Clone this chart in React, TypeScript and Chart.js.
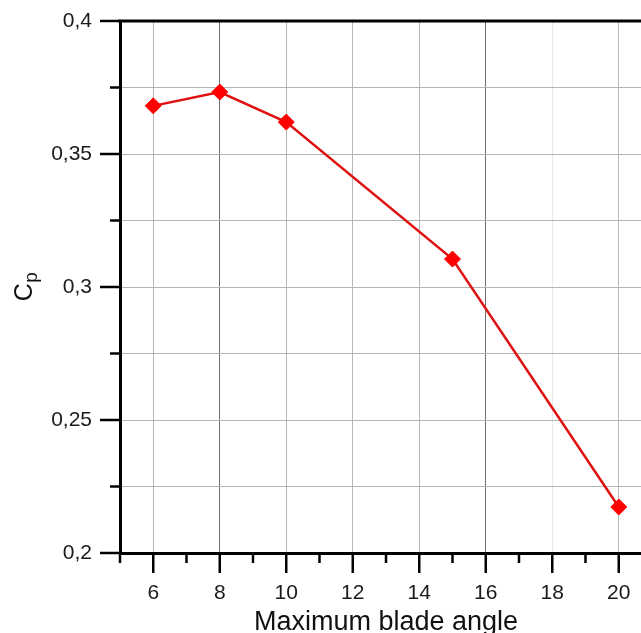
import React, { useEffect, useRef } from 'react';
import { Chart, registerables } from 'chart.js';

Chart.register(...registerables);

// ---- data ----
const bladeAngles = [6, 8, 10, 15, 20];
const cpValues = [0.3681, 0.3733, 0.362, 0.3105, 0.2173];
const xAxisTitle = 'Maximum blade angle';
const yTitleMain = 'C';
const yTitleSub = 'p';

const X_MIN = 5;
const X_MAX = 21;
const Y_MIN = 0.2;
const Y_MAX = 0.4;

const FONT = '"Liberation Sans", Arial, sans-serif';

function isMajorY(v: number) {
  return Math.abs(v * 20 - Math.round(v * 20)) < 1e-6;
}
function isEven(v: number) {
  return Math.abs(v / 2 - Math.round(v / 2)) < 1e-6;
}
function fmtComma(v: number) {
  return String(parseFloat(v.toFixed(3))).replace('.', ',');
}

const decorPlugin = {
  id: 'decor',
  beforeDraw(chart: any) {
    const { ctx, width, height } = chart;
    ctx.save();
    ctx.fillStyle = '#ffffff';
    ctx.fillRect(0, 0, width, height);
    ctx.restore();
  },
  afterDraw(chart: any) {
    const { ctx, chartArea } = chart;
    const xs = chart.scales.x;
    const ys = chart.scales.y;
    ctx.save();
    ctx.strokeStyle = '#000';
    ctx.lineWidth = 2.5;
    ctx.lineCap = 'butt';
    xs.ticks.forEach((t: any) => {
      const px = xs.getPixelForValue(t.value);
      const len = isEven(t.value) ? 20 : 10;
      ctx.beginPath();
      ctx.moveTo(px, chartArea.bottom);
      ctx.lineTo(px, chartArea.bottom + len);
      ctx.stroke();
    });
    ys.ticks.forEach((t: any) => {
      const py = ys.getPixelForValue(t.value);
      const len = isMajorY(t.value) ? 20 : 10;
      ctx.beginPath();
      ctx.moveTo(chartArea.left, py);
      ctx.lineTo(chartArea.left - len, py);
      ctx.stroke();
    });
    // top and right frame
    ctx.lineWidth = 3;
    ctx.beginPath();
    ctx.moveTo(chartArea.left - 1.5, chartArea.top);
    ctx.lineTo(chartArea.right, chartArea.top);
    ctx.lineTo(chartArea.right, chartArea.bottom);
    ctx.stroke();

    // y axis title with subscript
    const midY = (chartArea.top + chartArea.bottom) / 2;
    ctx.translate(32, midY);
    ctx.rotate(-Math.PI / 2);
    ctx.fillStyle = '#111';
    ctx.textBaseline = 'alphabetic';
    ctx.textAlign = 'left';
    ctx.font = `25px ${FONT}`;
    const wC = ctx.measureText(yTitleMain).width;
    ctx.font = `19px ${FONT}`;
    const wP = ctx.measureText(yTitleSub).width;
    const start = -(wC + wP) / 2;
    ctx.font = `25px ${FONT}`;
    ctx.fillText(yTitleMain, start, 0);
    ctx.font = `19px ${FONT}`;
    ctx.fillText(yTitleSub, start + wC + 0.5, 5);
    ctx.restore();
  },
};

export default function App() {
  const ref = useRef<HTMLCanvasElement>(null);

  useEffect(() => {
    if (!ref.current) return;
    const chart = new Chart(ref.current, {
      type: 'line',
      data: {
        datasets: [
          {
            label: 'Cp',
            data: bladeAngles.map((a, i) => ({ x: a, y: cpValues[i] })),
            borderColor: '#e01010',
            borderWidth: 2.5,
            backgroundColor: '#ff0000',
            pointStyle: 'rectRot',
            pointRadius: 8,
            pointBorderWidth: 1,
            pointBorderColor: '#ff0000',
            pointBackgroundColor: '#ff0000',
            tension: 0,
            fill: false,
          },
        ],
      },
      options: {
        responsive: false,
        animation: false,
        devicePixelRatio: 1,
        layout: { autoPadding: false, padding: { top: 21, right: 0, bottom: 0, left: 0 } },
        plugins: {
          legend: { display: false },
          tooltip: { enabled: false },
        },
        scales: {
          x: {
            type: 'linear',
            min: X_MIN,
            max: X_MAX,
            afterFit: (s: any) => {
              s.height = 80;
              s.paddingLeft = 0;
              s.paddingRight = 0;
            },
            ticks: {
              stepSize: 1,
              autoSkip: false,
              maxRotation: 0,
              padding: 0,
              color: '#1a1a1a',
              font: { family: FONT, size: 21 },
              callback: (v: any) => (isEven(Number(v)) ? String(v) : ''),
            },
            grid: {
              drawTicks: true,
              tickLength: 28,
              tickColor: 'rgba(0,0,0,0)',
              lineWidth: 1,
              color: (c: any) => {
                const v = c.tick ? c.tick.value : NaN;
                if (!isEven(v)) return 'rgba(0,0,0,0)';
                if (v === 8 || v === 16) return '#707070';
                if (v === 18) return '#e8e8e8';
                return '#b8b8b8';
              },
            },
            border: { display: true, color: '#000', width: 3 },
            title: {
              display: true,
              text: xAxisTitle,
              color: '#111',
              font: { family: FONT, size: 27, lineHeight: 1 },
              padding: { top: 0, bottom: -3 },
            },
          },
          y: {
            type: 'linear',
            min: Y_MIN,
            max: Y_MAX,
            afterFit: (s: any) => {
              s.width = 120;
            },
            ticks: {
              stepSize: 0.025,
              autoSkip: false,
              padding: 8,
              color: '#1a1a1a',
              font: { family: FONT, size: 21 },
              callback: (v: any) => (isMajorY(Number(v)) ? fmtComma(Number(v)) : ''),
            },
            grid: {
              drawTicks: true,
              tickLength: 20,
              tickColor: 'rgba(0,0,0,0)',
              lineWidth: 1,
              color: '#b4b4b4',
            },
            border: { display: true, color: '#000', width: 3 },
            title: { display: false },
          },
        },
      },
      plugins: [decorPlugin],
    } as any);
    return () => chart.destroy();
  }, []);

  return (
    <div
      style={{
        position: 'absolute',
        left: 0,
        top: 0,
        width: 641,
        height: 633,
        overflow: 'hidden',
        background: '#fff',
      }}
    >
      <canvas ref={ref} width={652} height={633} style={{ display: 'block', width: 652, height: 633 }} />
    </div>
  );
}
